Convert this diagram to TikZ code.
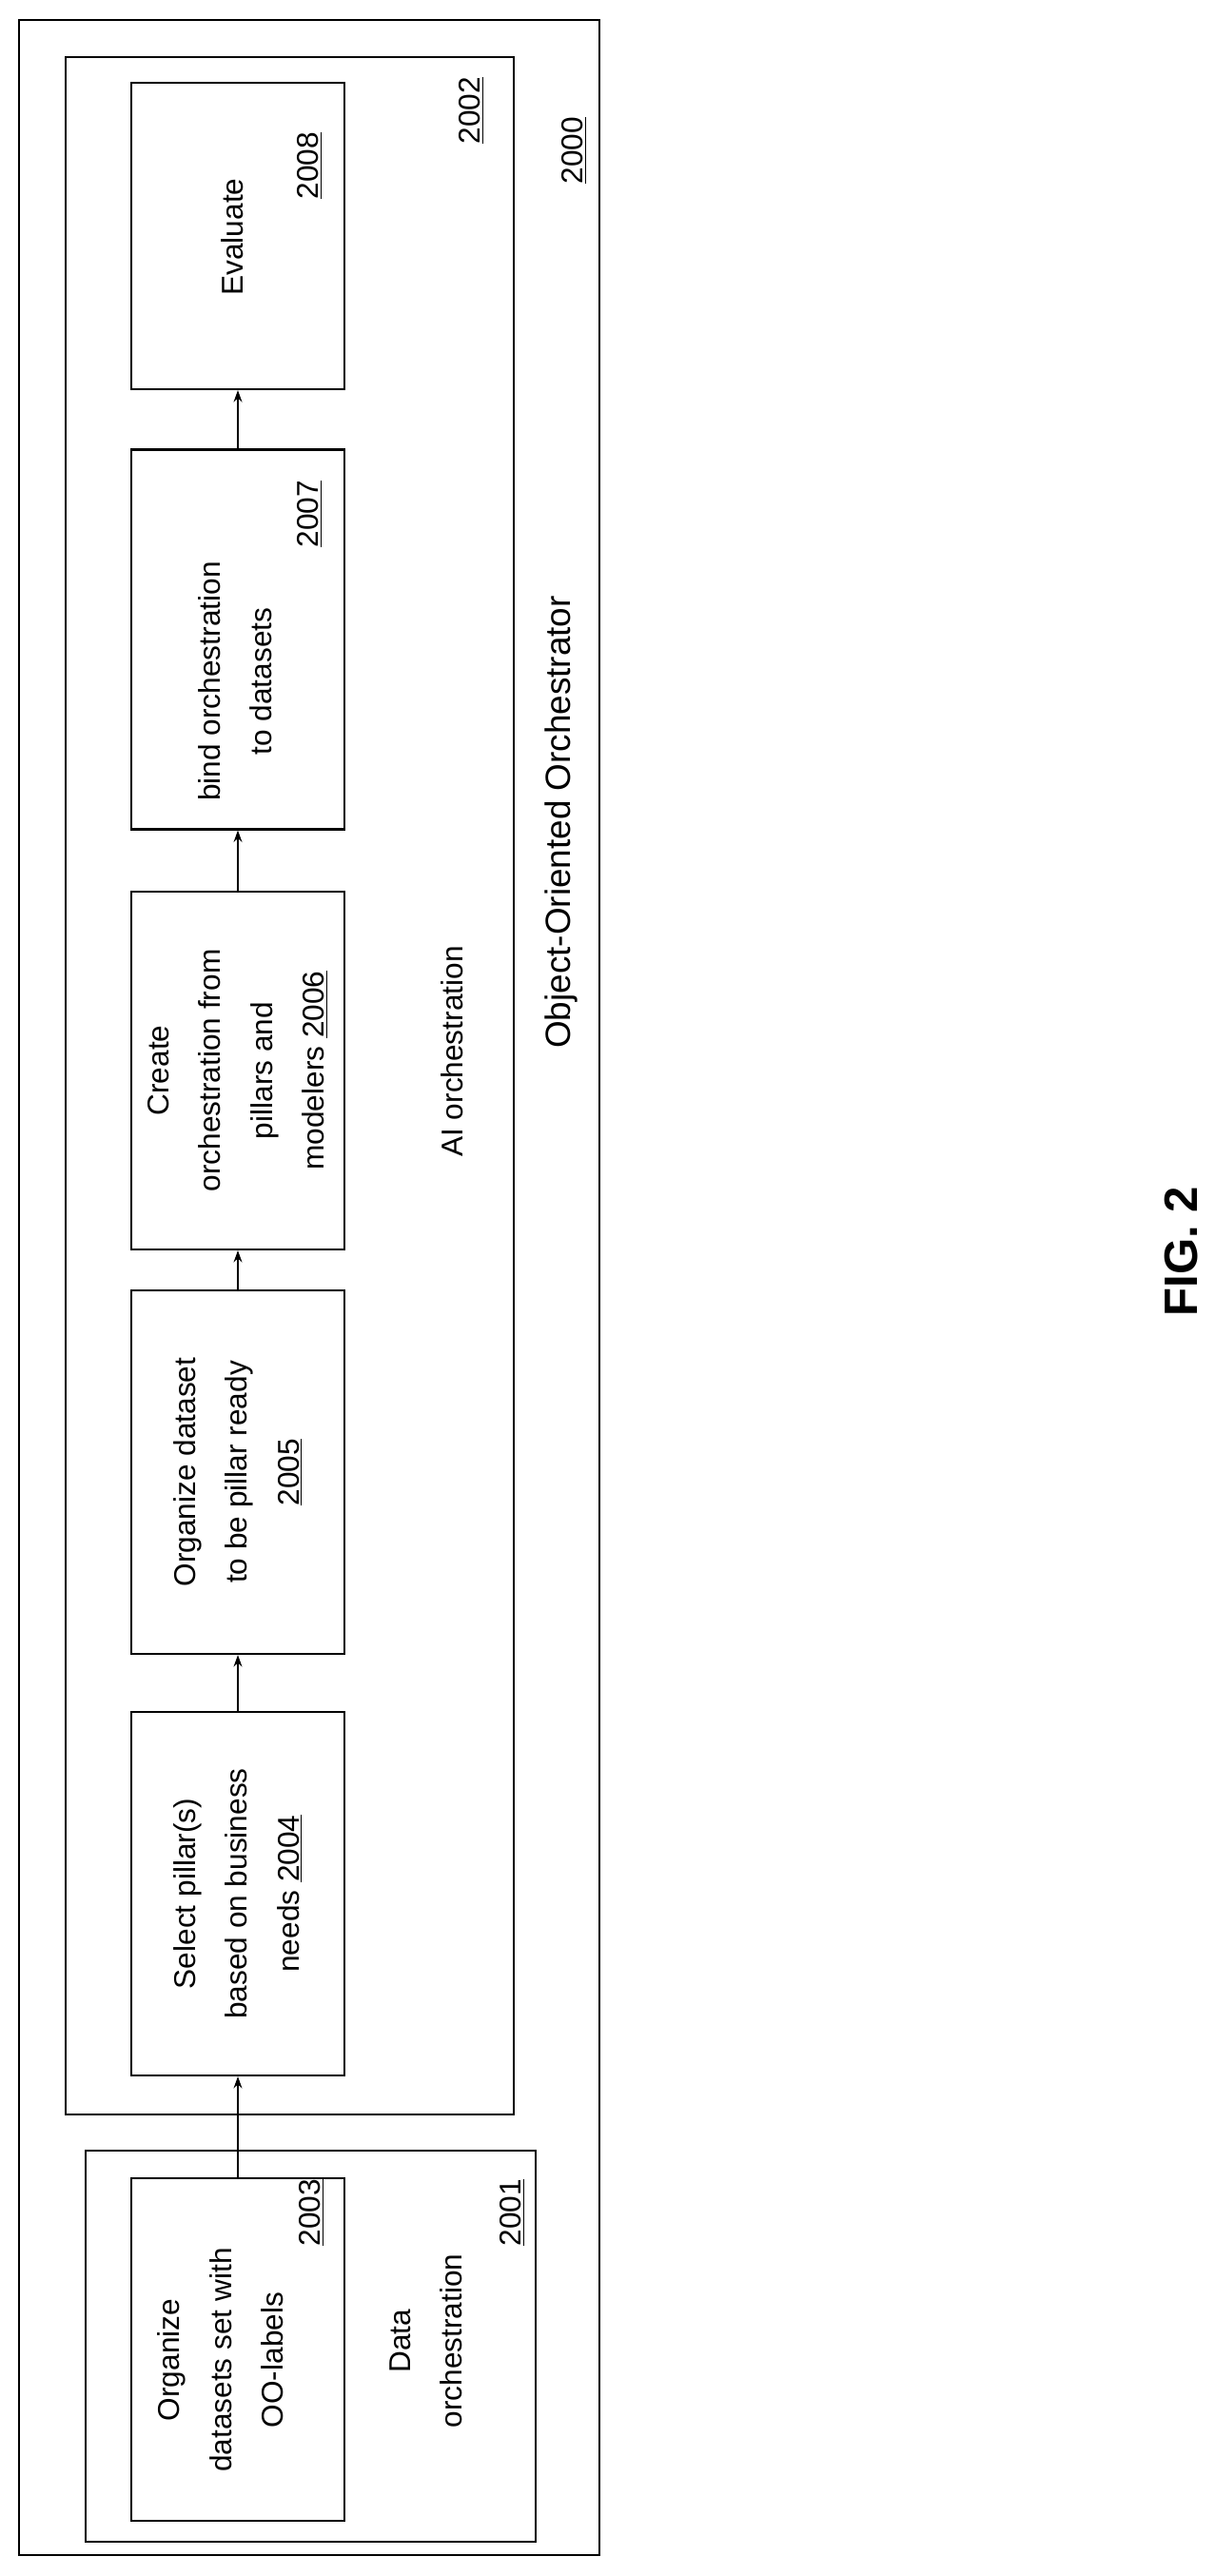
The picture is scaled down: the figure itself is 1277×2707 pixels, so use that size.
\documentclass[tikz,border=0pt]{standalone}
\usepackage{fontspec}
\setmainfont{Liberation Sans}
\usetikzlibrary{arrows.meta}
\begin{document}
\def\pu{0.02cm}
\begin{tikzpicture}[x=0.02cm,y=-0.02cm,
  box/.style={draw,line width=1.2pt,rotate=90,align=center,inner sep=2pt,
    font=\fontsize{18}{31}\selectfont},
  lbl/.style={rotate=90,align=center,font=\fontsize{18}{31}\selectfont},
  frame/.style={draw,line width=1.2pt},
  arr/.style={-{Stealth[length=7pt,width=5pt]},line width=1.2pt}]
\useasboundingbox (0,0) rectangle (1277,2707);
% containers
\draw[frame] (20,21) rectangle (630,2685);
\draw[frame] (69,60) rectangle (540,2222);
\draw[frame] (90,2260) rectangle (563,2671);
% labels of containers
\node[lbl] (n2000) at (603,158) {\underline{2000}};
\node[lbl,font=\fontsize{21}{24}\selectfont] (oo) at (590,864) {Object-Oriented Orchestrator};
\node[lbl] (n2002) at (495,116) {\underline{2002}};
\node[lbl] (ai) at (475,1105) {AI orchestration};
\node[lbl] (data) at (448,2460) {Data\\orchestration};
\node[lbl] (n2001) at (538,2325) {\underline{2001}};
% boxes
\node[box,minimum width=322*\pu,minimum height=224*\pu] (b8) at (250,248) {};
\node[lbl] (t8) at (244,249) {Evaluate};
\node[lbl] (n2008) at (325,174) {\underline{2008}};
\node[box,minimum width=399*\pu,minimum height=224*\pu] (b7) at (250,672) {};
\node[lbl] (t7) at (247,716) {bind orchestration\\to datasets};
\node[lbl] (n2007) at (325,540) {\underline{2007}};
\node[box,minimum width=376*\pu,minimum height=224*\pu] (b6) at (250,1125) {Create\\orchestration from\\pillars and\\modelers \underline{2006}};
\node[box,minimum width=382*\pu,minimum height=224*\pu] (b5) at (250,1547) {Organize dataset\\to be pillar ready\\\underline{2005}};
\node[box,minimum width=382*\pu,minimum height=224*\pu] (b4) at (250,1990) {Select pillar(s)\\based on business\\needs \underline{2004}};
\node[box,minimum width=360*\pu,minimum height=224*\pu] (b3) at (250,2469) {};
\node[lbl] (t3) at (232,2480) {Organize\\datasets set with\\OO-labels};
\node[lbl] (n2003) at (327,2325) {\underline{2003}};
% arrows
\draw[arr] (b3.east) -- (b4.west);
\draw[arr] (b4.east) -- (b5.west);
\draw[arr] (b5.east) -- (b6.west);
\draw[arr] (b6.east) -- (b7.west);
\draw[arr] (b7.east) -- (b8.west);
% figure label
\node[rotate=90,font=\bfseries\fontsize{28}{34}\selectfont] (fig) at (1242,1315) {FIG. 2};
\end{tikzpicture}
\end{document}
